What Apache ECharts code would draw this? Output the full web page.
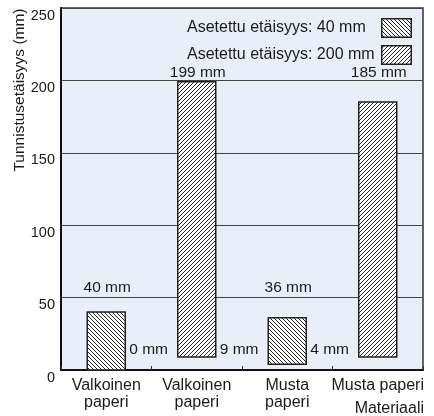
<!DOCTYPE html>
<html>
<head>
<meta charset="utf-8">
<script src="https://cdn.jsdelivr.net/npm/echarts@6/dist/echarts.min.js"></script>
<style>
  html, body { margin: 0; padding: 0; background: #fff; }
  #chart { width: 434px; height: 416px; }
</style>
</head>
<body>
<div id="chart"></div>
<script>
// Materials on the horizontal axis
const categories = ['Valkoinen\npaperi', 'Valkoinen\npaperi', 'Musta\npaperi', 'Musta paperi'];

// Detection range (mm) for set distance 40 mm: lower and upper limits
const nearLow  = [0, null, 4, null];
const nearHigh = [40, null, 36, null];

// Detection range (mm) for set distance 200 mm: lower and upper limits
const farLow  = [null, 9, null, 9];
const farHigh = [null, 199, null, 185];

// Whether the lower limit is written beside the bar
const showLowLabel = [true, true, true, false];

// Y axis ticks
const yTicks = { min: 0, max: 250, step: 50 };

const seriesNames = ['Asetettu etäisyys: 40 mm', 'Asetettu etäisyys: 200 mm'];

const FONT = 'Liberation Sans, Arial, Helvetica, sans-serif';
const TEXT = '#1a1a1a';

// Strokes diagonal hatch lines over a w x h area: dir = -1 draws "\\", dir = +1 draws "//"
function strokeHatch(g, w, h, dir, step) {
  g.strokeStyle = '#111';
  g.lineWidth = 0.9;
  g.beginPath();
  for (let k = -h - step; k <= w + h + step; k += step) {
    if (dir > 0) { g.moveTo(k, h); g.lineTo(k + h, 0); }
    else { g.moveTo(k, 0); g.lineTo(k + h, h); }
  }
  g.stroke();
}

function hatchTile(dir) {
  const s = 4;
  const c = document.createElement('canvas');
  c.width = c.height = s;
  const g = c.getContext('2d');
  g.fillStyle = '#ffffff';
  g.fillRect(0, 0, s, s);
  strokeHatch(g, s, s, dir, s);
  return { image: c, repeat: 'repeat' };
}

// Legend key: a small hatched box with a dark outline
function hatchIcon(dir) {
  const w = 31, h = 20;
  const c = document.createElement('canvas');
  c.width = w; c.height = h;
  const g = c.getContext('2d');
  g.fillStyle = '#ffffff';
  g.fillRect(0, 0, w, h);
  strokeHatch(g, w, h, dir, 4);
  g.strokeStyle = '#222';
  g.lineWidth = 1.5;
  g.strokeRect(0.75, 0.75, w - 1.5, h - 1.5);
  return 'image://' + c.toDataURL();
}

const hatchBack = hatchTile(-1);
const hatchFwd = hatchTile(1);

function rangeData(low, high) {
  const out = [];
  for (let i = 0; i < categories.length; i++) {
    if (low[i] != null && high[i] != null) out.push([i, low[i], high[i], showLowLabel[i] ? 1 : 0]);
  }
  return out;
}

// Draws a floating bar from the lower to the upper limit, with value labels
function makeRenderer(pattern, topLabelAt) {
  return function (params, api) {
    const i = api.value(0);
    const lo = api.coord([i, api.value(1)]);
    const hi = api.coord([i, api.value(2)]);
    const w = api.size([1, 0])[0] * 0.42;
    const children = [{
      type: 'rect',
      shape: { x: lo[0] - w / 2, y: hi[1], width: w, height: lo[1] - hi[1] },
      style: { fill: pattern, stroke: '#222', lineWidth: 1.5 }
    }, {
      type: 'text',
      x: lo[0] + 1,
      y: api.coord([i, topLabelAt])[1],
      style: {
        text: api.value(2) + ' mm', align: 'center', verticalAlign: 'middle',
        fontSize: 15.5, fontFamily: FONT, fill: TEXT
      }
    }];
    if (api.value(3)) {
      const base = api.coord([i, 0]);
      children.push({
        type: 'text',
        x: lo[0] + w / 2 + 4,
        y: base[1] - 20,
        style: {
          text: api.value(1) + ' mm', align: 'left', verticalAlign: 'middle',
          fontSize: 15.5, fontFamily: FONT, fill: TEXT
        }
      });
    }
    return { type: 'group', children: children };
  };
}

const chart = echarts.init(document.getElementById('chart'), null, { renderer: 'canvas' });

chart.setOption({
  animation: false,
  backgroundColor: '#ffffff',
  textStyle: { fontFamily: FONT, color: TEXT },
  grid: {
    left: 61, right: 11, top: 8, bottom: 46,
    show: true, backgroundColor: '#e9eef8', borderColor: '#333', borderWidth: 1.5
  },
  legend: {
    orient: 'vertical', right: 17, top: 13, align: 'right',
    itemWidth: 31, itemHeight: 20, itemGap: 7, textGap: 4,
    selectedMode: false,
    formatter: n => '{t|' + n + '}',
    textStyle: {
      fontSize: 16, fontFamily: FONT, color: TEXT,
      rich: { t: { width: 189, align: 'left', fontSize: 16, fontFamily: FONT, color: TEXT } }
    },
    data: [
      { name: seriesNames[0], icon: hatchIcon(-1) },
      { name: seriesNames[1], icon: hatchIcon(1) }
    ]
  },
  xAxis: {
    type: 'category',
    data: categories,
    axisLine: { lineStyle: { color: '#111', width: 2 } },
    axisTick: { show: true, inside: true, length: 4, interval: 0, lineStyle: { color: '#333' } },
    axisLabel: { fontSize: 16, lineHeight: 17, margin: 7, color: TEXT, fontFamily: FONT, interval: 0 },
    splitLine: { show: false }
  },
  yAxis: {
    type: 'value',
    min: yTicks.min, max: yTicks.max, interval: yTicks.step,
    axisLine: { show: true, lineStyle: { color: '#111', width: 2 } },
    axisTick: { show: false },
    axisLabel: { fontSize: 14.5, margin: 6, color: TEXT, fontFamily: FONT, verticalAlign: 'top' },
    splitLine: { show: true, lineStyle: { color: '#444', width: 1 } }
  },
  graphic: [
    {
      type: 'text', x: 20, y: 90, rotation: Math.PI / 2,
      style: {
        text: 'Tunnistusetäisyys (mm)', align: 'center', verticalAlign: 'middle',
        fontSize: 15.5, fontFamily: FONT, fill: TEXT
      }
    },
    {
      type: 'text', x: 424, y: 409,
      style: {
        text: 'Materiaali', align: 'right', verticalAlign: 'middle',
        fontSize: 16, fontFamily: FONT, fill: TEXT
      }
    }
  ],
  series: [
    {
      name: seriesNames[0], type: 'custom',
      itemStyle: { color: '#888', borderColor: '#222' },
      encode: { x: 0, y: [1, 2] },
      data: rangeData(nearLow, nearHigh),
      renderItem: makeRenderer(hatchBack, 57)
    },
    {
      name: seriesNames[1], type: 'custom',
      itemStyle: { color: '#888', borderColor: '#222' },
      encode: { x: 0, y: [1, 2] },
      data: rangeData(farLow, farHigh),
      renderItem: makeRenderer(hatchFwd, 205.5)
    }
  ]
});
</script>
</body>
</html>
